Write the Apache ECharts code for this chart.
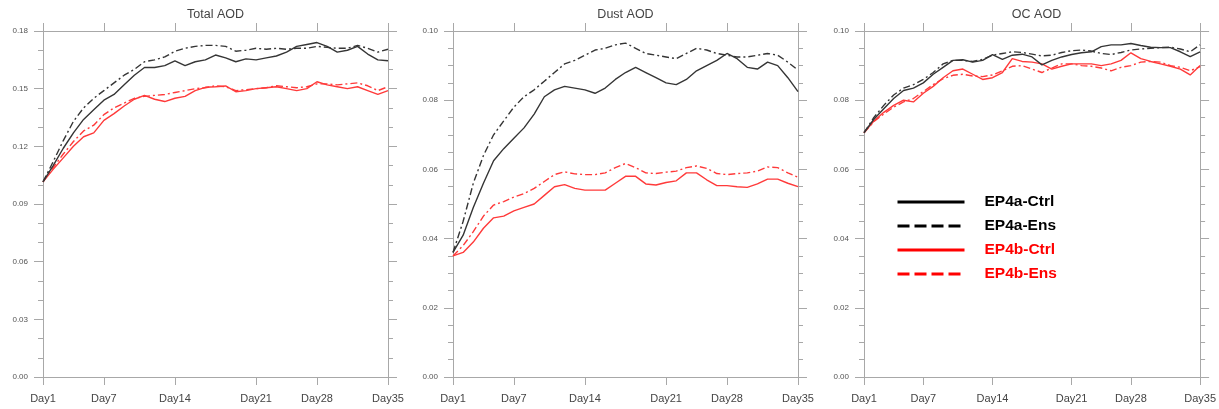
<!DOCTYPE html>
<html>
<head>
<meta charset="utf-8">
<title>AOD</title>
<script src="https://cdn.jsdelivr.net/npm/echarts@6/dist/echarts.min.js"></script>
<style>
html, body { margin: 0; padding: 0; background: #fff; }
#chart { width: 1219px; height: 409px; }
</style>
</head>
<body>
<div id="chart"></div>
<script>
var days = [1, 2, 3, 4, 5, 6, 7, 8, 9, 10, 11, 12, 13, 14, 15, 16, 17, 18, 19, 20,
  21, 22, 23, 24, 25, 26, 27, 28, 29, 30, 31, 32, 33, 34, 35]
var xTickDays = [1, 7, 14, 22, 28, 35]
var xTickLabels = ['Day1', 'Day7', 'Day14', 'Day21', 'Day28', 'Day35']
var panelTitles = ['Total AOD', 'Dust AOD', 'OC AOD']
var yMax = [0.18, 0.10, 0.10]
var yStep = [0.03, 0.02, 0.02]
var yMinorSplit = [3, 4, 4]
var seriesNames = ['EP4a-Ctrl', 'EP4a-Ens', 'EP4b-Ctrl', 'EP4b-Ens']

// Total AOD
var totalCtrlA = [0.1015, 0.110, 0.119, 0.127, 0.134, 0.139, 0.144, 0.147, 0.152, 0.157, 0.161, 0.161, 0.162, 0.1645, 0.162, 0.164, 0.165, 0.1675,
  0.166, 0.164, 0.1655, 0.165, 0.166, 0.167, 0.169, 0.172, 0.173, 0.174, 0.172, 0.169, 0.170, 0.172, 0.168, 0.165, 0.1645]
var totalEnsA = [0.1015, 0.112, 0.123, 0.133, 0.140, 0.145, 0.149, 0.153, 0.157, 0.160, 0.164, 0.165, 0.1665, 0.1695, 0.171, 0.172, 0.1725, 0.1725,
  0.172, 0.1695, 0.170, 0.171, 0.1705, 0.171, 0.1705, 0.171, 0.171, 0.172, 0.1715, 0.171, 0.171, 0.1725, 0.171, 0.169, 0.1705]
var totalCtrlB = [0.1015, 0.108, 0.114, 0.120, 0.125, 0.127, 0.1335, 0.137, 0.141, 0.1445, 0.1465, 0.1445, 0.1433, 0.145, 0.146, 0.149, 0.1507, 0.151,
  0.1514, 0.1484, 0.149, 0.150, 0.1505, 0.151, 0.150, 0.149, 0.150, 0.1536, 0.152, 0.151, 0.150, 0.151, 0.149, 0.147, 0.149]
var totalEnsB = [0.1015, 0.109, 0.116, 0.1225, 0.128, 0.131, 0.1365, 0.140, 0.1425, 0.145, 0.146, 0.1465, 0.147, 0.148, 0.149, 0.150, 0.1505, 0.1515,
  0.151, 0.149, 0.1495, 0.150, 0.1505, 0.1515, 0.151, 0.1505, 0.151, 0.1525, 0.1525, 0.152, 0.1525, 0.153, 0.1515, 0.149, 0.151]

// Dust AOD
var dustCtrlA = [0.036, 0.041, 0.049, 0.056, 0.0625, 0.066, 0.069, 0.072, 0.076, 0.081, 0.083, 0.084, 0.0835, 0.083, 0.082, 0.0835, 0.086, 0.088,
  0.0895, 0.088, 0.0865, 0.085, 0.0845, 0.086, 0.0885, 0.090, 0.0915, 0.0935, 0.092, 0.0895, 0.089, 0.091, 0.090, 0.0865, 0.0825]
var dustEnsA = [0.036, 0.045, 0.056, 0.064, 0.070, 0.074, 0.078, 0.081, 0.083, 0.0855, 0.088, 0.0905, 0.0915, 0.093, 0.0945, 0.095, 0.096, 0.0965,
  0.095, 0.0935, 0.093, 0.0925, 0.092, 0.0935, 0.095, 0.0945, 0.0935, 0.093, 0.0925, 0.0925, 0.093, 0.0935, 0.093, 0.091, 0.0887]
var dustCtrlB = [0.035, 0.036, 0.039, 0.043, 0.046, 0.0465, 0.048, 0.049, 0.050, 0.0525, 0.055, 0.0556, 0.0545, 0.054, 0.054, 0.054, 0.056, 0.058,
  0.058, 0.0558, 0.0555, 0.0562, 0.0567, 0.059, 0.059, 0.057, 0.0553, 0.0553, 0.055, 0.0548, 0.0558, 0.0572, 0.0572, 0.056, 0.055]
var dustEnsB = [0.035, 0.038, 0.042, 0.0465, 0.0497, 0.0507, 0.052, 0.053, 0.0545, 0.0565, 0.0585, 0.0593, 0.0587, 0.0585, 0.0585, 0.059, 0.0605, 0.0617,
  0.0605, 0.059, 0.0588, 0.0592, 0.0595, 0.0605, 0.061, 0.0603, 0.0588, 0.0585, 0.0588, 0.059, 0.0595, 0.0607, 0.0605, 0.059, 0.0577]

// OC AOD
var ocCtrlA = [0.0706, 0.0745, 0.0775, 0.0805, 0.0828, 0.0835, 0.085, 0.0875, 0.0895, 0.0915, 0.0917, 0.091, 0.0915, 0.0932, 0.0918, 0.093, 0.0933, 0.0925,
  0.0902, 0.0915, 0.0925, 0.0932, 0.0937, 0.094, 0.0955, 0.096, 0.096, 0.0964, 0.0958, 0.0953, 0.0952, 0.0952, 0.094, 0.0926, 0.094]
var ocEnsA = [0.0706, 0.075, 0.0785, 0.0815, 0.0835, 0.0845, 0.086, 0.088, 0.0905, 0.0915, 0.0915, 0.0912, 0.0918, 0.093, 0.0935, 0.094, 0.0938, 0.0933,
  0.0928, 0.093, 0.0938, 0.0943, 0.0945, 0.0942, 0.0935, 0.0932, 0.0938, 0.0945, 0.0948, 0.095, 0.0952, 0.0953, 0.0948, 0.094, 0.096]
var ocCtrlB = [0.0706, 0.074, 0.0765, 0.0785, 0.080, 0.0795, 0.082, 0.084, 0.0865, 0.0885, 0.089, 0.0875, 0.086, 0.0865, 0.088, 0.092, 0.0912, 0.091,
  0.0905, 0.089, 0.0898, 0.0905, 0.0905, 0.0905, 0.090, 0.0905, 0.0915, 0.0937, 0.092, 0.0912, 0.0905, 0.0898, 0.089, 0.0873, 0.090]
var ocEnsB = [0.0706, 0.0738, 0.076, 0.078, 0.0795, 0.0805, 0.0825, 0.0845, 0.0862, 0.0872, 0.0875, 0.087, 0.0868, 0.0873, 0.0885, 0.0898, 0.090, 0.089,
  0.088, 0.0893, 0.0905, 0.0905, 0.090, 0.0898, 0.0893, 0.0885, 0.0895, 0.090, 0.091, 0.0912, 0.091, 0.090, 0.0895, 0.0885, 0.0897]

var panelData = [
  [totalCtrlA, totalEnsA, totalCtrlB, totalEnsB],
  [dustCtrlA, dustEnsA, dustCtrlB, dustEnsB],
  [ocCtrlA, ocEnsA, ocCtrlB, ocEnsB]
]

var gridLefts = [43, 453, 864]
var gridWidth = 345
var axisGray = '#a8a8a8'
var lineColors = ['#353535', '#353535', '#ff3a3a', '#ff3a3a']
var lineTypes = ['solid', [7, 3, 2, 3], 'solid', [7, 3, 2, 3]]

function pairs(vals) {
  return vals.map(function (v, i) { return [days[i], v] })
}

function buildOption() {
  var grids = []
  var xAxes = []
  var yAxes = []
  var titles = []
  var series = []
  for (var p = 0; p < 3; p++) {
    grids.push({ left: gridLefts[p], top: 31, width: gridWidth, height: 346 })
    titles.push({
      text: panelTitles[p],
      left: gridLefts[p] + gridWidth / 2,
      top: 8,
      padding: 0,
      textAlign: 'center',
      textStyle: { fontSize: 12.5, fontWeight: 'normal', color: '#444', fontFamily: 'Liberation Sans' }
    })
    var baseX = {
      type: 'value',
      gridIndex: p,
      min: 1,
      max: 35,
      axisLine: { onZero: false, lineStyle: { color: axisGray } },
      axisTick: { customValues: xTickDays, length: 8, lineStyle: { color: axisGray } },
      splitLine: { show: false }
    }
    xAxes.push(Object.assign({}, baseX, {
      position: 'bottom',
      axisLabel: {
        customValues: xTickDays,
        margin: 16,
        fontSize: 11,
        color: '#444',
        fontFamily: 'Liberation Sans',
        formatter: function (v) { return xTickLabels[xTickDays.indexOf(v)] }
      }
    }))
    xAxes.push(Object.assign({}, baseX, { position: 'top', axisLabel: { show: false } }))
    var baseY = {
      type: 'value',
      gridIndex: p,
      min: 0,
      max: yMax[p],
      interval: yStep[p],
      axisLine: { show: true, onZero: false, lineStyle: { color: axisGray } },
      axisTick: { show: true, length: 9, lineStyle: { color: axisGray } },
      minorTick: { show: true, splitNumber: yMinorSplit[p], length: 5, lineStyle: { color: axisGray } },
      splitLine: { show: false }
    }
    yAxes.push(Object.assign({}, baseY, {
      position: 'left',
      axisLabel: {
        margin: 15,
        fontSize: 8,
        color: '#555',
        fontFamily: 'Liberation Sans',
        formatter: function (v) { return v.toFixed(2) }
      }
    }))
    yAxes.push(Object.assign({}, baseY, { position: 'right', axisLabel: { show: false } }))
    for (var s = 0; s < 4; s++) {
      series.push({
        name: seriesNames[s],
        type: 'line',
        xAxisIndex: p * 2,
        yAxisIndex: p * 2,
        data: pairs(panelData[p][s]),
        symbol: 'circle',
        showSymbol: false,
        z: 10 - s,
        itemStyle: { color: lineColors[s] },
        lineStyle: { color: lineColors[s], width: 1.4, type: lineTypes[s] },
        emphasis: { disabled: true }
      })
    }
  }
  return {
    backgroundColor: '#fff',
    animation: false,
    title: titles,
    grid: grids,
    xAxis: xAxes,
    yAxis: yAxes,
    legend: {
      orient: 'vertical',
      left: 896,
      top: 194,
      padding: 0,
      itemWidth: 67,
      itemHeight: 16,
      itemGap: 8,
      itemStyle: { opacity: 0 },
      textStyle: { fontSize: 15.5, fontWeight: 'bold', fontFamily: 'Liberation Sans', padding: [0, 0, 0, 15] },
      data: [
        { name: 'EP4a-Ctrl', textStyle: { color: '#000' }, lineStyle: { color: '#000', width: 3, type: 'solid' } },
        { name: 'EP4a-Ens', textStyle: { color: '#000' }, lineStyle: { color: '#000', width: 3, type: [12, 5] } },
        { name: 'EP4b-Ctrl', textStyle: { color: '#ff0000' }, lineStyle: { color: '#ff0000', width: 3, type: 'solid' } },
        { name: 'EP4b-Ens', textStyle: { color: '#ff0000' }, lineStyle: { color: '#ff0000', width: 3, type: [12, 5] } }
      ]
    },
    series: series
  }
}

var myChart = echarts.init(document.getElementById('chart'))
myChart.setOption(buildOption())
</script>
</body>
</html>
